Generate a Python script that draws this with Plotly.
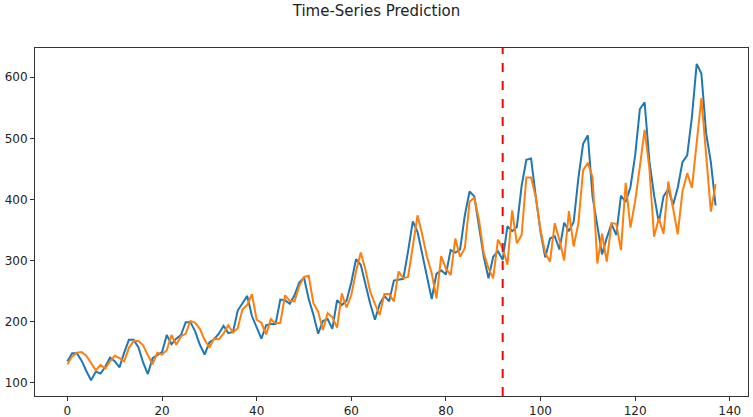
import plotly.graph_objects as go

# Actual values (index 0..137)
actual = [135, 148, 148, 136, 119, 104, 118,
          115, 126, 141, 135, 125, 149, 170, 170, 158, 133, 114, 140,
          145, 150, 178, 163, 172, 178, 199, 199, 184, 162, 146, 166,
          171, 180, 193, 181, 183, 218, 230, 242, 209, 191, 172, 194,
          196, 196, 236, 235, 229, 243, 264, 272, 237, 211, 180, 201,
          204, 188, 235, 227, 234, 264, 302, 293, 259, 229, 203, 229,
          242, 233, 267, 269, 270, 315, 364, 347, 312, 274, 237, 278,
          284, 277, 317, 313, 318, 374, 413, 405, 355, 306, 271, 306,
          315, 301, 356, 348, 355, 422, 465, 467, 404, 347, 305, 336,
          340, 318, 362, 348, 363, 435, 491, 505, 404, 359, 310, 337,
          360, 342, 406, 396, 420, 472, 548, 559, 463, 407, 362, 405,
          417, 391, 419, 461, 472, 535, 622, 606, 508, 461, 390]

# Predicted values
predicted = [130, 143, 149, 150, 144, 132, 120, 129, 123, 135,
             144, 140, 135, 157, 168, 168, 161, 145, 130, 149,
             146, 153, 178, 162, 176, 180, 201, 198, 188, 170,
             157, 172, 171, 180, 194, 182, 189, 220, 227, 245,
             203, 198, 179, 204, 197, 198, 243, 234, 233, 258,
             273, 275, 230, 216, 186, 214, 207, 190, 246, 223,
             243, 282, 313, 285, 249, 229, 211, 245, 245, 233,
             282, 271, 273, 323, 374, 342, 306, 279, 238, 307,
             287, 276, 336, 306, 320, 396, 403, 366, 312, 287,
             271, 334, 320, 293, 382, 328, 342, 436, 436, 404,
             350, 312, 298, 361, 333, 300, 381, 323, 361, 448,
             460, 436, 295, 344, 298, 361, 360, 317, 427, 354,
             397, 454, 514, 451, 339, 369, 344, 429, 385, 343,
             413, 443, 419, 497, 566, 473, 380, 425]

train_size = 92
x_ticks = [0, 20, 40, 60, 80, 100, 120, 140]
y_ticks = [100, 200, 300, 400, 500, 600]

idx = list(range(len(actual)))

fig = go.Figure()
fig.add_trace(go.Scatter(x=idx, y=actual, mode="lines",
                         line=dict(color="#1f77b4", width=2), showlegend=False))
fig.add_trace(go.Scatter(x=idx, y=predicted, mode="lines",
                         line=dict(color="#ff7f0e", width=2), showlegend=False))

fig.add_shape(type="line", xref="x", yref="paper", x0=train_size, x1=train_size,
              y0=0, y1=1, line=dict(color="#ff0000", width=2, dash="dash"),
              layer="above")

n = len(actual)
xpad = (n - 1) * 0.05
ymin, ymax = min(actual + predicted), max(actual + predicted)
ypad = (ymax - ymin) * 0.05

axis_common = dict(showgrid=False, zeroline=False, showline=True, mirror=True,
                   linecolor="#333333", linewidth=1, ticks="outside", ticklen=4,
                   tickcolor="#333333", tickwidth=1, automargin=False,
                   tickfont=dict(family="DejaVu Sans", size=12, color="#222222"))

fig.update_layout(
    width=753, height=417,
    margin=dict(l=35, r=5, t=48, b=21),
    paper_bgcolor="white", plot_bgcolor="white",
    title=dict(text="Time-Series Prediction", x=0.5, xanchor="center",
               y=1, yanchor="top", yref="container", pad=dict(t=5),
               font=dict(family="DejaVu Sans", size=15, color="#222222")),
    xaxis=dict(range=[-xpad, n - 1 + xpad], tickvals=x_ticks, **axis_common),
    yaxis=dict(range=[ymin - ypad, ymax + ypad], tickvals=y_ticks, **axis_common),
)

fig.write_html("out.html", config={"displayModeBar": False},
               post_script="document.body.style.margin='0';document.body.style.overflow='hidden';")
